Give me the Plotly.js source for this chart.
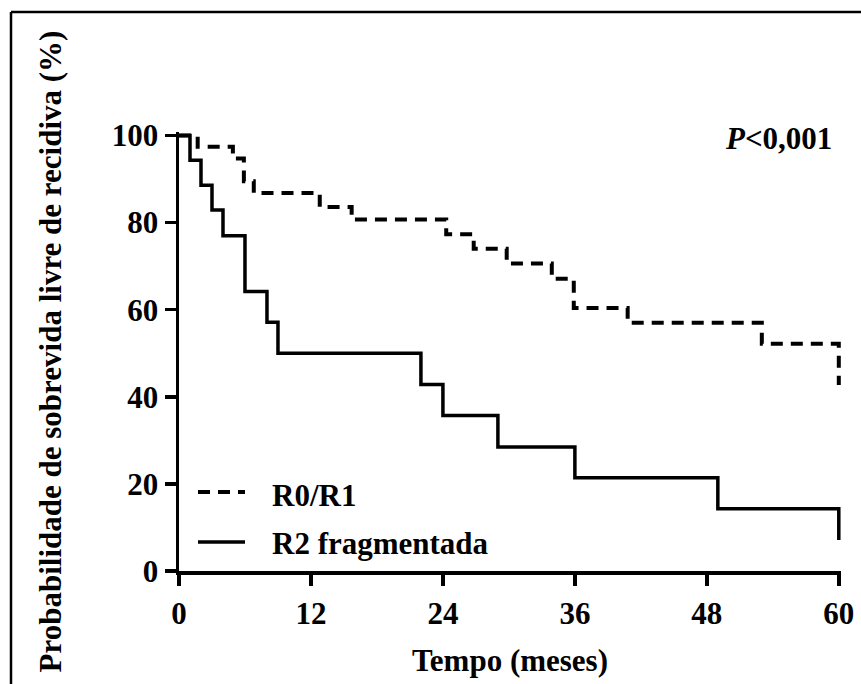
<!DOCTYPE html>
<html>
<head>
<meta charset="utf-8">
<script src="https://cdn.plot.ly/plotly-3.0.1.min.js"></script>
<style>
  html, body { margin: 0; padding: 0; background: #ffffff; }
  #chart { width: 861px; height: 684px; }
</style>
</head>
<body>
<div id="chart"></div>
<script>
// ---- data ----
const seriesNames = ["R0/R1", "R2 fragmentada"];
const r01Time = [0, 1.7, 4.9, 5.9, 6.8, 12.8, 15.7, 24.3, 26.8, 29.8, 33.9, 35.9, 40.8, 53.0, 60];
const r01Surv = [100, 97.4, 94.7, 89.5, 86.8, 83.6, 80.7, 77.3, 74.0, 70.6, 67.1, 60.4, 57.0, 52.2, 42.7];
const r2Time = [0, 1, 2, 3, 4, 6, 8, 9, 22, 24, 29, 36, 49, 60];
const r2Surv = [100, 94.3, 88.6, 82.9, 77.0, 64.2, 57.1, 50.0, 42.8, 35.7, 28.5, 21.4, 14.3, 7.1];
const xTicks = [0, 12, 24, 36, 48, 60];
const yTicks = [0, 20, 40, 60, 80, 100];
const xTitle = "Tempo (meses)";
const yTitle = "Probabilidade de sobrevida livre de recidiva (%)";
const pText = "<i>P</i>&lt;0,001";

// ---- styling ----
const FONT = "Liberation Serif, Times New Roman, serif";
const W = 861, H = 684;
const M = {l: 179, r: 20, t: 132, b: 113};
const plotW = W - M.l - M.r, plotH = H - M.t - M.b;
const px2x = p => (p - M.l) / plotW;       // pixel -> paper x
const px2y = p => (H - M.b - p) / plotH;    // pixel -> paper y

const dashStyle = "12px,8px";
const FS = 31;

const traces = [
  {x: r01Time, y: r01Surv, name: seriesNames[0], mode: "lines",
   line: {shape: "hv", color: "#000", width: 4, dash: dashStyle}, showlegend: false},
  {x: r2Time, y: r2Surv, name: seriesNames[1], mode: "lines",
   line: {shape: "hv", color: "#000", width: 3.5}, showlegend: false}
];

const legY = [492, 542];
const txtFont = {family: FONT, size: FS, weight: "bold", color: "#000"};
const layout = {
  width: W, height: H,
  margin: M,
  paper_bgcolor: "#fff", plot_bgcolor: "#fff",
  font: {family: FONT, color: "#000", weight: "bold"},
  xaxis: {
    range: [0, 60.2], tickvals: xTicks, ticktext: xTicks.map(String),
    showline: true, linecolor: "#000", linewidth: 3.5,
    ticks: "outside", ticklen: 11, tickwidth: 3.5, tickcolor: "#000",
    ticklabelstandoff: 1,
    showgrid: false, zeroline: false,
    tickfont: txtFont,
    title: {text: xTitle, font: txtFont, standoff: 20},
    automargin: false, fixedrange: true
  },
  yaxis: {
    range: [0, 100.8], tickvals: yTicks, ticktext: yTicks.map(String),
    showline: true, linecolor: "#000", linewidth: 3.5,
    ticks: "outside", ticklen: 11, tickwidth: 3.5, tickcolor: "#000",
    showgrid: false, zeroline: false,
    tickfont: txtFont,
    title: {text: yTitle, font: txtFont, standoff: 42},
    automargin: false, fixedrange: true
  },
  shapes: [
    // outer frame (left and top edges)
    {type: "line", xref: "paper", yref: "paper", x0: px2x(11), x1: px2x(11), y0: px2y(12), y1: px2y(H + 5),
     line: {color: "#000", width: 2.5}},
    {type: "line", xref: "paper", yref: "paper", x0: px2x(11), x1: px2x(W + 5), y0: px2y(12), y1: px2y(12),
     line: {color: "#000", width: 2.5}},
    // legend samples
    {type: "line", xref: "paper", yref: "paper", x0: px2x(198), x1: px2x(245), y0: px2y(legY[0]), y1: px2y(legY[0]),
     line: {color: "#000", width: 4, dash: dashStyle}},
    {type: "line", xref: "paper", yref: "paper", x0: px2x(198), x1: px2x(245), y0: px2y(legY[1]), y1: px2y(legY[1]),
     line: {color: "#000", width: 3.5}}
  ],
  annotations: [
    {xref: "paper", yref: "paper", x: px2x(270), y: px2y(legY[0] + 3), xanchor: "left", yanchor: "middle",
     text: seriesNames[0], showarrow: false, font: txtFont},
    {xref: "paper", yref: "paper", x: px2x(270), y: px2y(legY[1] + 1), xanchor: "left", yanchor: "middle",
     text: seriesNames[1], showarrow: false, font: txtFont},
    {xref: "paper", yref: "paper", x: px2x(834), y: px2y(138), xanchor: "right", yanchor: "middle",
     text: pText, showarrow: false, font: txtFont}
  ]
};

Plotly.newPlot("chart", traces, layout, {displayModeBar: false, staticPlot: true});
</script>
</body>
</html>
